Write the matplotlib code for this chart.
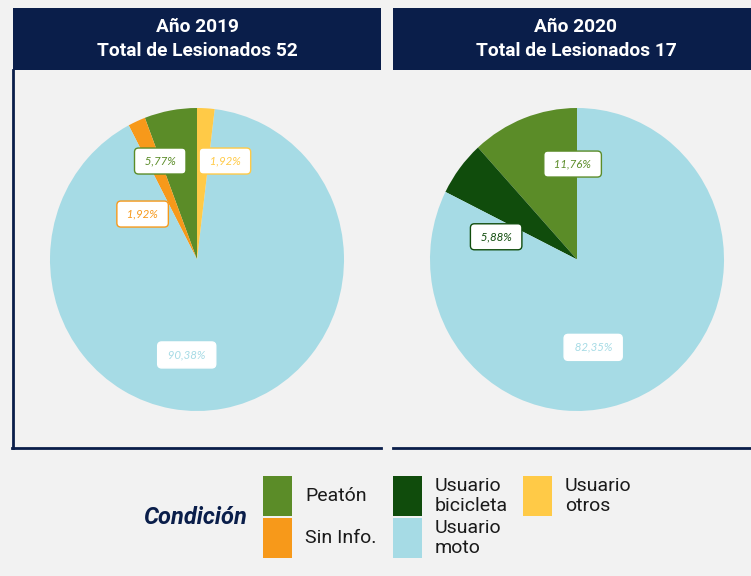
import matplotlib
matplotlib.use("Agg")
import matplotlib.pyplot as plt
from matplotlib.patches import Rectangle
from matplotlib.lines import Line2D

# ---- data ----
categories = ["Peatón", "Sin Info.", "Usuario bicicleta", "Usuario moto", "Usuario otros"]
legend_labels = ["Peatón", "Sin Info.", "Usuario\nbicicleta", "Usuario\nmoto", "Usuario\notros"]
values_2019 = [5.77, 1.92, 0.0, 90.38, 1.92]
values_2020 = [11.76, 0.0, 5.88, 82.35, 0.0]
titles = ["Año 2019\nTotal de Lesionados 52", "Año 2020\nTotal de Lesionados 17"]
pct_labels_2019 = ["5,77%", "1,92%", "", "90,38%", "1,92%"]
pct_labels_2020 = ["11,76%", "", "5,88%", "82,35%", ""]

colors = ["#5b8c28", "#f7991a", "#104c0c", "#a6dbe5", "#ffca47"]
navy = "#0a1e4a"
bg = "#f2f2f2"

W, H = 751, 576
fig = plt.figure(figsize=(W / 100, H / 100), dpi=100)
fig.patch.set_facecolor(bg)


def fx(x):
    return x / W


def fy(y):
    return 1 - y / H


# headers
for (x0, x1, tc), title in zip([(13, 381, 197), (393, 760, 576)], titles):
    fig.patches.append(Rectangle((fx(x0), fy(70)), fx(x1 - x0), (70 - 8) / H,
                                 transform=fig.transFigure, facecolor=navy,
                                 edgecolor="none", zorder=1))
    fig.text(fx(tc), fy(39), title, ha="center", va="center", color="white",
             fontsize=13.8, fontweight="bold", family="Roboto", linespacing=1.38)

# panel borders
fig.add_artist(Line2D([fx(13), fx(13)], [fy(70), fy(448)], color=navy, lw=2.0,
                      transform=fig.transFigure))
fig.add_artist(Line2D([fx(12), fx(381)], [fy(448), fy(448)], color=navy, lw=2.0,
                      transform=fig.transFigure))
fig.add_artist(Line2D([fx(393), fx(751)], [fy(448), fy(448)], color=navy, lw=2.0,
                      transform=fig.transFigure))

# label positions relative to pie center (unit radius)
pos_2019 = [(-0.25, 0.65), (-0.37, 0.30), None, (-0.07, -0.63), (0.19, 0.65)]
pos_2020 = [(-0.03, 0.63), None, (-0.55, 0.15), (0.11, -0.58), None]

RX, RY = 147, 151.5
for cx, vals, labs, poss in [(197, values_2019, pct_labels_2019, pos_2019),
                             (577, values_2020, pct_labels_2020, pos_2020)]:
    cy = 259.5
    ax = fig.add_axes([fx(cx - RX), fy(cy + RY), 2 * RX / W, 2 * RY / H])
    ax.set_facecolor("none")
    ax.pie(vals, colors=colors, startangle=90, counterclock=True, radius=1,
           wedgeprops=dict(linewidth=0))
    ax.set_xlim(-1, 1)
    ax.set_ylim(-1, 1)
    ax.set_aspect("auto")
    ax.axis("off")
    for lab, p, c in zip(labs, poss, colors):
        if not lab or p is None:
            continue
        ec = "white" if c == "#a6dbe5" else c
        ax.text(p[0], p[1], " " + lab + " ", ha="center", va="center", color=c,
                fontsize=8.3, style="italic", family="Lato",
                bbox=dict(boxstyle="round,pad=0.65,rounding_size=0.35",
                          facecolor="white", edgecolor=ec, linewidth=1.0))

# legend
fig.text(fx(195), fy(517), "Condición", ha="center", va="center", color=navy,
         fontsize=17, fontweight="bold", style="italic", family="Roboto")

leg_boxes = [(263, 476), (263, 518), (393, 476), (393, 518), (523, 476)]
for (x0, y0), lab, c in zip(leg_boxes, legend_labels, colors):
    fig.patches.append(Rectangle((fx(x0), fy(y0 + 40)), 29 / W, 40 / H,
                                 transform=fig.transFigure, facecolor=c,
                                 edgecolor="none"))
    fig.text(fx(x0 + 42), fy(y0 + 20), lab, ha="left", va="center",
             color="#1a1a1a", fontsize=14, family="Roboto", linespacing=1.12)

fig.savefig("out.png", dpi=100, facecolor=bg)
